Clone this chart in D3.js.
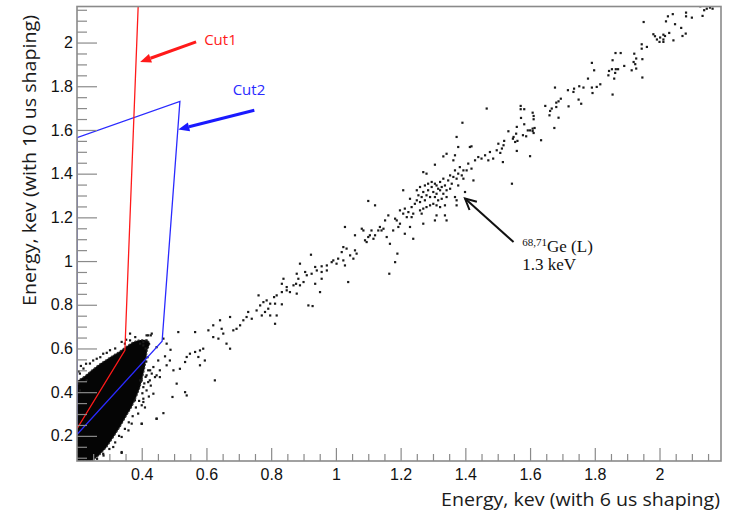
<!DOCTYPE html>
<html>
<head>
<meta charset="utf-8">
<script src="https://cdn.jsdelivr.net/npm/d3@7/dist/d3.min.js"></script>
<style>
  body { margin: 0; background: #fff; }
  svg { display: block; }
</style>
</head>
<body>
<script>
const w = 734;
const h = 515;

const xTicks = [0.4, 0.6, 0.8, 1, 1.2, 1.4, 1.6, 1.8, 2];
const yTicks = [0.2, 0.4, 0.6, 0.8, 1, 1.2, 1.4, 1.6, 1.8, 2];

const xTitle = "Energy, kev (with 6 us shaping)";
const yTitle = "Energy, kev (with 10 us shaping)";

// dense core of events near threshold, outline
const coreOutline = [[0.2,0.085],[0.245,0.085],[0.268,0.110],[0.292,0.149],[0.313,0.195],[0.333,0.241],
  [0.352,0.290],[0.369,0.332],[0.384,0.380],[0.395,0.424],[0.403,0.470],[0.410,0.515],[0.417,0.592],
  [0.426,0.624],[0.418,0.636],[0.405,0.640],[0.389,0.638],[0.372,0.628],[0.358,0.615],[0.330,0.585],
  [0.302,0.560],[0.271,0.530],[0.249,0.505],[0.225,0.475],[0.2,0.45]];

// loose events around the core
const fringePoints = [[0.364,0.668],[0.420,0.660],[0.428,0.660],[0.415,0.637],[0.338,0.630],[0.348,0.622],
  [0.364,0.637],[0.395,0.622],[0.405,0.614],[0.302,0.592],[0.281,0.576],[0.261,0.553],[0.240,0.531],
  [0.220,0.508],[0.209,0.485],[0.230,0.454],[0.204,0.439],[0.209,0.408],[0.431,0.485],[0.425,0.454],
  [0.441,0.469],[0.415,0.408],[0.436,0.393],[0.405,0.370],[0.400,0.340],[0.389,0.302],[0.369,0.256],
  [0.359,0.225],[0.338,0.195],[0.312,0.149],[0.281,0.118],[0.250,0.088],[0.338,0.122],[0.400,0.256],
  [0.446,0.279],[0.456,0.469],[0.395,0.454],[0.379,0.363],[0.338,0.126],[0.205,0.495],[0.212,0.520],
  [0.228,0.530],[0.250,0.545],[0.272,0.560],[0.292,0.580],[0.318,0.600],[0.352,0.640],[0.380,0.652],
  [0.412,0.600],[0.418,0.560],[0.414,0.540],[0.420,0.500],[0.412,0.470],[0.408,0.440],[0.402,0.395],
  [0.392,0.360],[0.382,0.330],[0.372,0.290],[0.360,0.262],[0.348,0.232],[0.330,0.200],[0.318,0.170],
  [0.300,0.140],[0.282,0.110],[0.262,0.095],[0.428,0.430],[0.422,0.380],[0.410,0.330]];

// events along the diagonal band
const bandPoints = [[0.415,0.660],[0.431,0.668],[0.405,0.629],[0.446,0.606],[0.467,0.645],[0.477,0.622],
  [0.489,0.594],[0.513,0.675],[0.565,0.675],[0.472,0.564],[0.451,0.545],[0.436,0.515],[0.426,0.500],
  [0.415,0.477],[0.400,0.454],[0.405,0.423],[0.420,0.446],[0.446,0.477],[0.456,0.500],[0.477,0.523],
  [0.487,0.545],[0.498,0.500],[0.518,0.507],[0.539,0.561],[0.534,0.538],[0.549,0.576],[0.565,0.584],
  [0.580,0.591],[0.590,0.599],[0.575,0.561],[0.580,0.523],[0.595,0.545],[0.508,0.439],[0.534,0.400],
  [0.539,0.385],[0.495,0.378],[0.467,0.304],[0.446,0.278],[0.400,0.255],[0.405,0.355],[0.626,0.454],
  [0.606,0.683],[0.621,0.706],[0.642,0.729],[0.621,0.652],[0.637,0.645],[0.652,0.668],[0.662,0.622],
  [0.673,0.599],[0.683,0.683],[0.693,0.690],[0.704,0.706],[0.714,0.729],[0.724,0.744],[0.729,0.767],
  [0.673,0.744],[0.647,0.690],
  [0.923,1.029],[0.889,0.988],[0.936,0.973],[0.956,0.976],[0.972,0.980],[0.941,0.957],[0.956,0.950],
  [0.972,0.957],[0.905,0.950],[0.910,0.935],[0.925,0.942],[0.879,0.942],[0.884,0.919],[0.877,0.896],
  [0.900,0.904],[0.889,0.889],[0.869,0.889],[0.848,0.881],[0.833,0.896],[0.838,0.919],[0.848,0.866],
  [0.858,0.858],[0.879,0.851],[0.833,0.858],[0.817,0.843],[0.936,0.896],[0.956,0.919],[0.951,0.858],
  [0.915,0.797],[0.928,0.794],[0.809,0.835],[0.786,0.820],[0.776,0.812],[0.766,0.797],[0.761,0.843],
  [0.797,0.805],[0.812,0.805],[0.833,0.802],[0.791,0.782],[0.781,0.767],[0.797,0.751],[0.817,0.751],
  [0.771,0.751],[0.755,0.774],[0.740,0.736],[0.812,0.713],
  [0.987,0.995],[0.992,1.003],[1.002,0.988],[1.007,1.011],[1.023,1.003],[1.018,1.041],[1.023,1.064],
  [1.033,1.057],[1.028,0.980],[1.038,0.904],[1.044,1.026],[1.054,1.011],[1.059,1.049],[1.064,1.034],
  [1.028,1.156],[1.059,1.118],[1.080,1.148],[1.085,1.140],[1.090,1.095],[1.095,1.087],[1.100,1.110],
  [1.105,1.118],[1.110,1.140],[1.116,1.102],[1.121,1.118],[1.131,1.140],[1.136,1.156],[1.141,1.140],
  [1.147,1.148],[1.152,1.186],[1.157,1.110],[1.162,1.209],[1.167,1.079],[1.177,1.140],[1.183,1.194],
  [1.188,1.186],[1.193,1.156],[1.198,1.232],[1.198,1.171],[1.183,0.995],[1.190,1.034],[1.165,0.942],
  [1.121,1.255],[1.100,1.275],[1.208,1.217],[1.213,1.240],[1.219,1.201],[1.224,1.224],[1.229,1.156],
  [1.234,1.247],[1.239,1.217],[1.213,1.125],[1.239,1.102],[1.208,1.324],[1.229,1.285],[1.244,1.262],
  [1.250,1.278],[1.255,1.301],[1.260,1.270],[1.265,1.293],[1.270,1.316],[1.275,1.278],[1.280,1.301],
  [1.285,1.324],[1.291,1.293],[1.296,1.339],[1.301,1.316],[1.306,1.354],[1.311,1.308],[1.316,1.331],
  [1.322,1.362],[1.327,1.339],[1.332,1.377],[1.337,1.346],[1.342,1.324],[1.347,1.369],[1.353,1.392],
  [1.358,1.354],[1.363,1.385],[1.368,1.415],[1.373,1.377],[1.378,1.400],[1.383,1.430],[1.389,1.392],
  [1.394,1.415],[1.260,1.232],[1.270,1.240],[1.280,1.247],[1.291,1.255],[1.301,1.262],[1.311,1.255],
  [1.250,1.324],[1.260,1.339],[1.275,1.346],[1.285,1.354],[1.296,1.362],[1.311,1.346],[1.322,1.324],
  [1.332,1.308],[1.342,1.293],[1.306,1.293],[1.316,1.278],[1.327,1.285],[1.337,1.255],[1.353,1.331],
  [1.322,1.247],[1.311,1.209],[1.306,1.186],[1.270,1.171],[1.265,1.217],[1.234,1.201],[1.342,1.186],
  [1.337,1.209],[1.368,1.293],[1.373,1.278],[1.373,1.255],[1.399,1.316],[1.378,1.346],[1.394,1.377],
  [1.425,1.369],[1.419,1.423],[1.430,1.461],[1.440,1.476],[1.450,1.469],[1.461,1.484],[1.471,1.461],
  [1.476,1.499],[1.486,1.469],[1.497,1.507],[1.502,1.537],[1.414,1.522],[1.419,1.525],[1.373,1.568],
  [1.391,1.633],[1.378,1.522],[1.368,1.484],[1.342,1.491],[1.332,1.479],[1.306,1.441],[1.270,1.407],
  [1.280,1.400],[1.363,1.461],[1.404,1.415],[1.409,1.446],[1.466,1.698],
  [2.126,2.166],[2.138,2.148],[2.146,2.155],[2.156,2.160],[2.164,2.155],[2.133,2.122],[2.082,2.137],
  [2.082,2.120],[2.100,2.114],[2.041,2.130],[2.026,2.120],[2.020,2.097],[2.048,2.084],[2.067,2.067],
  [1.951,2.094],[2.081,2.041],[2.071,2.030],[2.043,2.010],[2.030,2.044],[2.012,2.036],[2.017,2.030],
  [2.002,2.023],[1.992,2.014],[1.981,2.038],[1.986,2.029],[2.000,2.003],[2.012,2.003],[2.012,2.014],
  [1.961,1.980],[1.945,1.992],[1.945,1.972],[1.947,1.840],[1.922,1.949],[1.928,1.927],[1.920,1.911],
  [1.925,1.901],[1.928,1.881],[1.914,1.873],[1.947,1.924],[1.880,1.952],[1.864,1.952],[1.855,1.919],
  [1.891,1.893],[1.872,1.878],[1.865,1.878],[1.853,1.878],[1.844,1.870],[1.863,1.861],[1.842,1.850],
  [1.860,1.835],[1.855,1.762],[1.791,1.907],[1.798,1.873],[1.779,1.835],[1.817,1.809],[1.806,1.797],
  [1.791,1.794],[1.793,1.769],[1.765,1.794],[1.752,1.800],[1.736,1.789],[1.734,1.774],[1.717,1.782],
  [1.677,1.794],[1.695,1.743],[1.688,1.731],[1.681,1.725],[1.681,1.705],[1.667,1.698],[1.662,1.687],
  [1.660,1.667],[1.647,1.710],[1.688,1.656],[1.675,1.609],[1.719,1.708],[1.750,1.739],[1.758,1.720],
  [1.634,1.553],[1.571,1.710],[1.571,1.695],[1.582,1.695],[1.572,1.655],[1.582,1.626],[1.608,1.679],
  [1.611,1.664],[1.611,1.649],[1.608,1.606],[1.614,1.609],[1.608,1.595],[1.600,1.598],[1.593,1.598],
  [1.611,1.586],[1.559,1.614],[1.533,1.594],[1.549,1.568],[1.557,1.583],[1.547,1.560],[1.554,1.545],
  [1.561,1.550],[1.578,1.576],[1.588,1.571],[1.559,1.504],[1.600,1.480],[1.518,1.530],[1.513,1.515],
  [1.520,1.550],[1.508,1.495],[1.516,1.453],[1.544,1.354]];

// selection cuts
const cut1 = [[0.2,0.233],[0.348,0.592],[0.389,2.165]];
const cut2 = [[0.2,1.565],[0.518,1.731],[0.463,0.633],[0.2,0.206],[0.2,1.565]];

const svg = d3.select("body").append("svg")
  .attr("width", w)
  .attr("height", h);

const xScale = d3.scaleLinear().domain([0.2, 2.19]).range([77, 721]);
const yScale = d3.scaleLinear().domain([0.085, 2.165]).range([461, 6.5]);

const fmt = d => String(+d.toFixed(2));
const axisGrey = "#8a8a8a";

svg.append("clipPath").attr("id", "plot")
  .append("rect")
  .attr("x", 77).attr("y", 6.5).attr("width", 644).attr("height", 454.5);

const plot = svg.append("g").attr("clip-path", "url(#plot)");

// core blob
plot.append("path")
  .datum(coreOutline)
  .attr("d", d3.line().x(d => xScale(d[0])).y(d => yScale(d[1])).curve(d3.curveLinearClosed))
  .attr("fill", "#050505")
  .attr("stroke", "#333")
  .attr("stroke-width", 1.2)
  .attr("stroke-dasharray", "2,1.5");

plot.selectAll("rect.dot")
  .data(fringePoints.concat(bandPoints))
  .enter().append("rect")
  .attr("class", "dot")
  .attr("x", d => xScale(d[0]) - 1.1)
  .attr("y", d => yScale(d[1]) - 1.1)
  .attr("width", 2.2)
  .attr("height", 2.2)
  .attr("fill", "#1a1a1a");

const cutLine = d3.line().x(d => xScale(d[0])).y(d => yScale(d[1]));

plot.append("path").datum(cut2)
  .attr("d", cutLine)
  .attr("fill", "none")
  .attr("stroke", "#2a2aff")
  .attr("stroke-width", 1.3);

plot.append("path").datum(cut1)
  .attr("d", cutLine)
  .attr("fill", "none")
  .attr("stroke", "#ff1a1a")
  .attr("stroke-width", 1.3);

// axes, ROOT style ticks pointing inside
const xMinor = d3.range(0.25, 2.19, 0.05).filter(v => !xTicks.some(t => Math.abs(t - v) < 1e-6));
const yMinor = d3.range(0.1, 2.165, 0.05).filter(v => !yTicks.some(t => Math.abs(t - v) < 1e-6));

const gx = svg.append("g").attr("transform", "translate(0,461)");
gx.call(d3.axisBottom(xScale).tickValues(xMinor).tickSize(-7).tickSizeOuter(0).tickFormat(""));
gx.append("g").call(d3.axisBottom(xScale).tickValues(xTicks).tickSize(-13).tickSizeOuter(0).tickPadding(8).tickFormat(fmt));

const gy = svg.append("g").attr("transform", "translate(77,0)");
gy.call(d3.axisLeft(yScale).tickValues(yMinor).tickSize(-10).tickSizeOuter(0).tickFormat(""));
gy.append("g").call(d3.axisLeft(yScale).tickValues(yTicks).tickSize(-20).tickSizeOuter(0).tickPadding(4).tickFormat(fmt));

svg.selectAll(".tick line").attr("stroke", axisGrey).attr("stroke-width", 1.2);
svg.selectAll(".domain").attr("stroke", "none");
svg.selectAll(".tick text")
  .attr("fill", "#111")
  .style("font-family", "'Liberation Sans', Arial, sans-serif")
  .style("font-size", "16px");

// frame
svg.append("rect")
  .attr("x", 77).attr("y", 6.5).attr("width", 644).attr("height", 454.5)
  .attr("fill", "none")
  .attr("stroke", axisGrey)
  .attr("stroke-width", 1.6);

// axis titles (the source image is a little stretched sideways)
svg.append("text")
  .attr("x", 441).attr("y", 506)
  .attr("textLength", 279)
  .attr("lengthAdjust", "spacingAndGlyphs")
  .attr("fill", "#1a1a1a")
  .style("font-family", "'Open Sans', sans-serif")
  .style("font-size", "17.5px")
  .text(xTitle);

svg.append("text")
  .attr("transform", "translate(36,306) rotate(-90)")
  .attr("textLength", 291)
  .attr("lengthAdjust", "spacingAndGlyphs")
  .attr("fill", "#1a1a1a")
  .style("font-family", "'Open Sans', sans-serif")
  .style("font-size", "17.5px")
  .text(yTitle);

// annotations
function arrow(x1, y1, x2, y2, color, width, headLen, headHalf, filled) {
  const a = Math.atan2(y2 - y1, x2 - x1);
  const bx = x2 - headLen * Math.cos(a), by = y2 - headLen * Math.sin(a);
  const px = -Math.sin(a) * headHalf, py = Math.cos(a) * headHalf;
  if (filled) {
    svg.append("line")
      .attr("x1", x1).attr("y1", y1).attr("x2", bx).attr("y2", by)
      .attr("stroke", color).attr("stroke-width", width);
    svg.append("path")
      .attr("d", `M${x2},${y2}L${bx + px},${by + py}L${bx - px},${by - py}Z`)
      .attr("fill", color);
  } else {
    svg.append("line")
      .attr("x1", x1).attr("y1", y1).attr("x2", x2).attr("y2", y2)
      .attr("stroke", color).attr("stroke-width", width);
    svg.append("path")
      .attr("d", `M${bx + px},${by + py}L${x2},${y2}L${bx - px},${by - py}`)
      .attr("fill", "none").attr("stroke", color).attr("stroke-width", width);
  }
}

arrow(xScale(0.568), yScale(2.003), xScale(0.395), yScale(1.911), "#ff1a1a", 3, 11, 4.5, true);
arrow(xScale(0.748), yScale(1.690), xScale(0.513), yScale(1.602), "#1a1aff", 3, 11, 4.5, true);
arrow(xScale(1.549), yScale(1.087), xScale(1.399), yScale(1.286), "#111", 2, 11, 5.5, false);

svg.append("text")
  .attr("x", xScale(0.593)).attr("y", yScale(1.988))
  .attr("fill", "#ff1a1a")
  .style("font-family", "'Open Sans', sans-serif")
  .style("font-size", "15px")
  .text("Cut1");

svg.append("text")
  .attr("x", xScale(0.681)).attr("y", yScale(1.759))
  .attr("fill", "#2a2aff")
  .style("font-family", "'Open Sans', sans-serif")
  .style("font-size", "15px")
  .text("Cut2");

const ge = svg.append("text")
  .attr("x", xScale(1.576)).attr("y", yScale(1.040))
  .attr("fill", "#111")
  .style("font-family", "'Liberation Serif', 'Times New Roman', serif")
  .style("font-size", "17px");
ge.append("tspan").attr("dy", -6).style("font-size", "11px").text("68,71");
ge.append("tspan").attr("dy", 6).text("Ge (L)");

svg.append("text")
  .attr("x", xScale(1.576)).attr("y", yScale(0.958))
  .attr("fill", "#111")
  .style("font-family", "'Liberation Serif', 'Times New Roman', serif")
  .style("font-size", "17px")
  .text("1.3 keV");
</script>
</body>
</html>
